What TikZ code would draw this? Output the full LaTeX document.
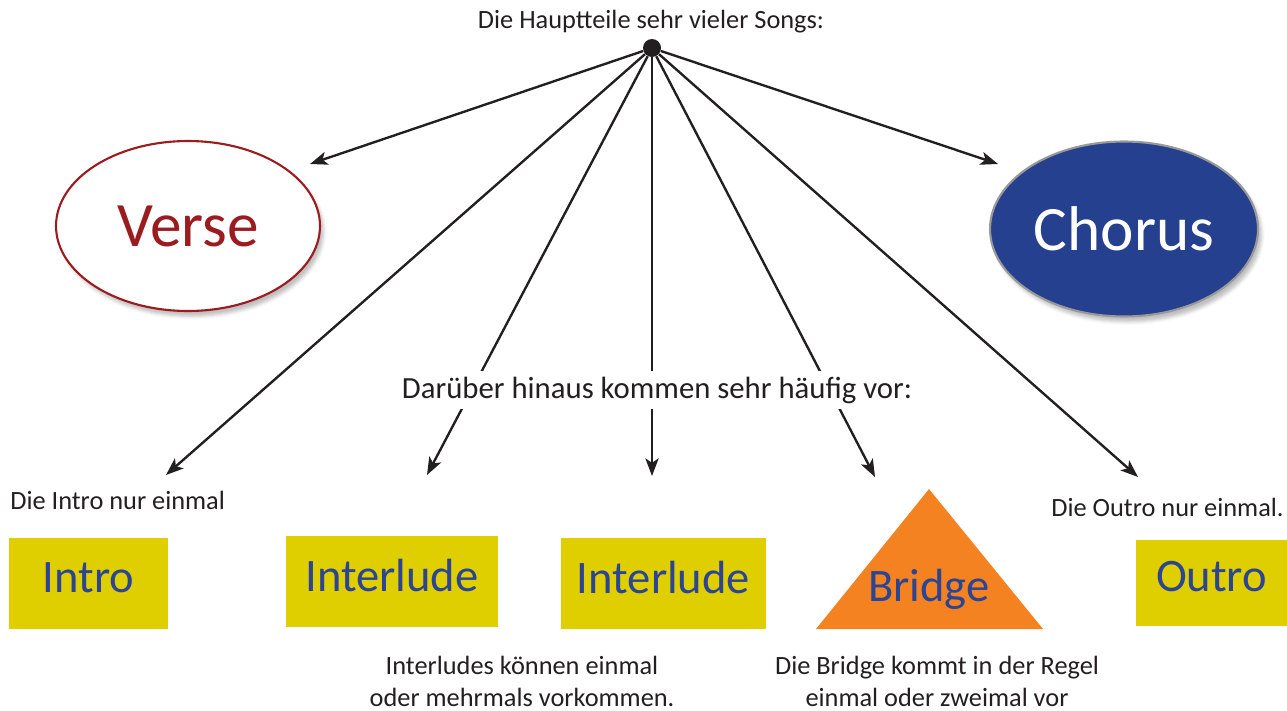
\documentclass[tikz,border=0pt]{standalone}
\usepackage{fontspec}
\setmainfont{Carlito}
\usetikzlibrary{arrows.meta,positioning,shapes.geometric,shadows.blur}

\definecolor{verseRed}{HTML}{9B1B1F}
\definecolor{chorusBlue}{HTML}{24408E}
\definecolor{partYellow}{HTML}{DFCF00}
\definecolor{partBlue}{HTML}{2B4594}
\definecolor{bridgeOrange}{HTML}{F58220}
\definecolor{inkGray}{HTML}{231F20}

\tikzset{
  arr/.style={-{Stealth[length=10pt,width=7.5pt,inset=2.5pt]}, line width=1.35pt, draw=inkGray},
  part/.style={fill=partYellow, text=partBlue, inner sep=0pt, text depth=7pt,
    minimum height=1.82cm, font=\fontsize{26.5}{30}\selectfont},
  note/.style={font=\fontsize{15}{18.2}\selectfont, text=inkGray, inner sep=0pt, align=center},
  mainpart/.style={ellipse, inner sep=0pt, line width=1.2pt,
    font=\fontsize{36}{40}\selectfont,
    blur shadow={shadow xshift=2pt, shadow yshift=-3pt, shadow opacity=25}},
}

\begin{document}
\begin{tikzpicture}[x=0.02cm,y=-0.02cm]
  \useasboundingbox (0,0) rectangle (1287,710);

  % Hub with the headline
  \node[note] (title) at (651,22) {Die Hauptteile sehr vieler Songs:};
  \node[circle, fill=inkGray, inner sep=0pt, minimum size=0.36cm] (hub) at (652,48) {};

  % Verse and chorus
  \node[mainpart, draw=verseRed, fill=white, text=verseRed,
    minimum width=5.28cm, minimum height=3.4cm] (verse) at (188,226) {Verse};
  \node[mainpart, draw=gray!80, fill=chorusBlue, text=white,
    minimum width=5.36cm, minimum height=3.5cm] (chorus) at (1124,229) {Chorus};

  % Other parts
  \node[part, minimum width=3.18cm] (intro) at (88.5,583.5) {Intro};
  \node[part, minimum width=4.24cm] (inter1) at (392,581.5) {Interlude};
  \node[part, minimum width=4.1cm] (inter2) at (663.5,583.5) {Interlude};
  \node[part, minimum width=3.02cm, minimum height=1.72cm] (outro) at (1211.5,583) {Outro};
  \fill[bridgeOrange] (816,629) -- (929,489) -- (1043,629) -- cycle;
  \node[text=partBlue, inner sep=0pt, font=\fontsize{26.5}{30}\selectfont] (bridge) at (929,589) {Bridge};

  % Arrow ends
  \coordinate (verseTip) at (310,164);
  \coordinate (chorusTip) at (998,164);
  \coordinate (introTip) at (166,475);
  \coordinate (inter1Tip) at (427,475);
  \coordinate (inter2Tip) at (652,476);
  \coordinate (bridgeTip) at (875,477);
  \coordinate (outroTip) at (1138,477);

  \foreach \t in {verseTip,chorusTip,introTip,inter1Tip,inter2Tip,bridgeTip,outroTip}
    \draw[arr] (hub) -- (\t);

  \node[fill=white, inner sep=3pt, text=inkGray, font=\fontsize{17.5}{20}\selectfont]
    (more) at (657,390) {Darüber hinaus kommen sehr häufig vor:};

  % Notes
  \node[note, anchor=west] (introNote) at (10,500) {Die Intro nur einmal};
  \node[note, anchor=east] (outroNote) at (1284,507) {Die Outro nur einmal.};
  \node[note] (interNote) at (522,681) {Interludes können einmal\\oder mehrmals vorkommen.};
  \node[note] (bridgeNote) at (937,681) {Die Bridge kommt in der Regel\\einmal oder zweimal vor};
\end{tikzpicture}
\end{document}
